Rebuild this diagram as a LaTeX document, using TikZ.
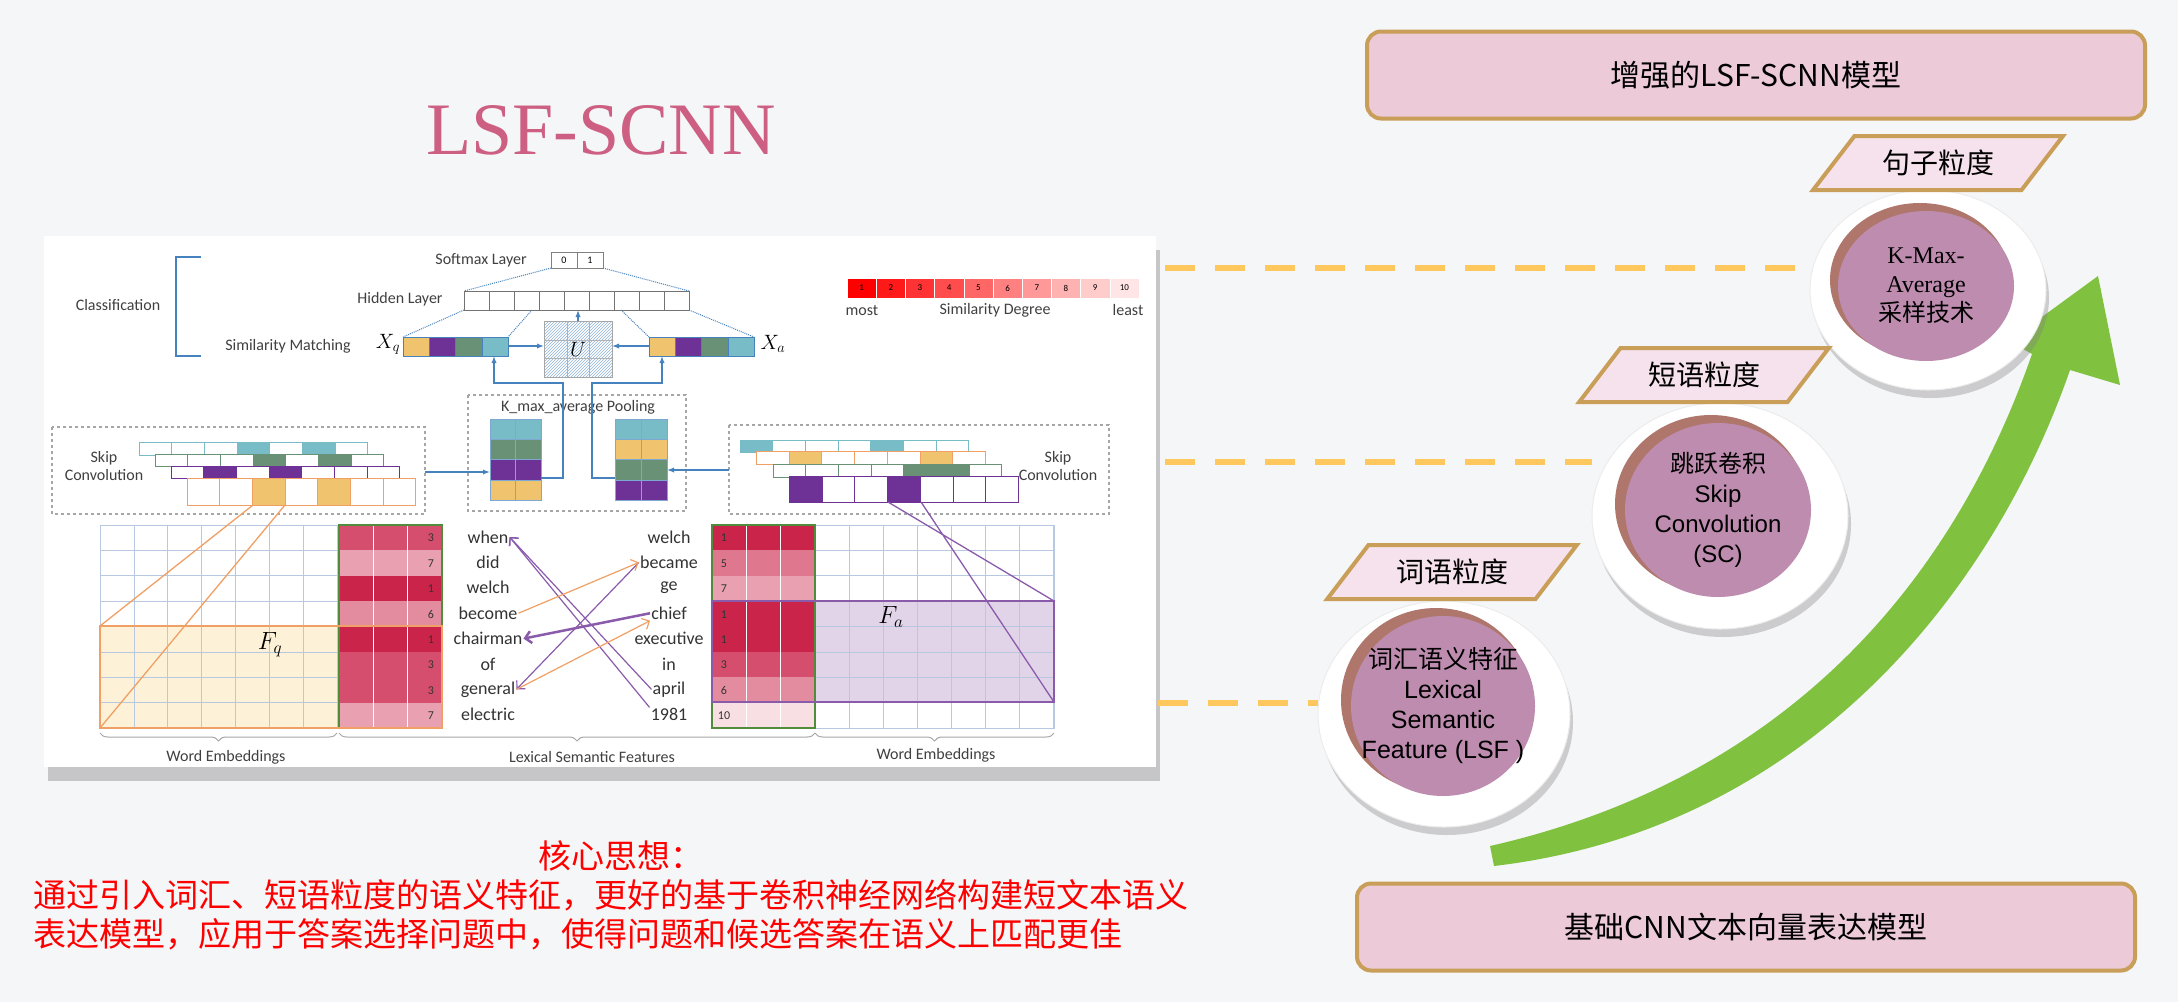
\documentclass[tikz,border=0pt]{standalone}
\usepackage{fontspec}
\setmainfont{Liberation Sans}
\newfontfamily\cjk{Noto Sans CJK SC}
\newfontfamily\figfont{Carlito}
\newfontfamily\titlefont{Liberation Serif}
\usetikzlibrary{
    arrows.meta,
    calc,
    decorations.pathreplacing,
    patterns,
    positioning,
    shadows,
    shapes.geometric
}
\definecolor{bgcol}{RGB}{245,246,248}
\definecolor{gold}{RGB}{200,158,88}
\definecolor{bannerpink}{RGB}{236,202,216}
\definecolor{tagpink}{RGB}{246,226,236}
\definecolor{discpurple}{RGB}{190,140,175}
\definecolor{discrim}{RGB}{175,118,108}
\definecolor{dashyellow}{RGB}{255,200,95}
\definecolor{arrowgreen}{RGB}{128,194,64}
\definecolor{titlepink}{RGB}{205,95,130}
\definecolor{figblue}{RGB}{70,130,190}
\definecolor{gridline}{RGB}{185,200,225}
\definecolor{cteal}{RGB}{120,188,200}
\definecolor{cgreen}{RGB}{105,145,118}
\definecolor{cpurple}{RGB}{110,50,150}
\definecolor{corange}{RGB}{240,196,110}
\definecolor{borange}{RGB}{240,160,100}
\definecolor{lsfred}{RGB}{200,25,65}
\definecolor{lsfgreen}{RGB}{80,140,60}
\definecolor{fqfill}{RGB}{253,242,215}
\definecolor{fafill}{RGB}{225,212,232}

\begin{document}
\begin{tikzpicture}[x=1pt, y=-1pt,
    banner/.style = {rectangle, rounded corners=14pt, draw=gold, line width=4pt,
                     fill=bannerpink, minimum width=778pt, minimum height=87pt,
                     font=\cjk\fontsize{30}{36}\selectfont},
    leveltag/.style = {trapezium, trapezium stretches=true, trapezium left angle=48,
                       trapezium right angle=132, draw=gold, line width=4pt, fill=tagpink,
                       minimum width=250pt, minimum height=54pt,
                       font=\cjk\fontsize{28}{34}\selectfont},
    halo/.style = {ellipse, fill=white, draw=gray!15, line width=1pt,
                   drop shadow={shadow xshift=3pt, shadow yshift=-8pt, opacity=.35}},
    disc/.style = {ellipse, fill=discpurple, inner sep=0pt},
    rim/.style = {ellipse, fill=discrim, inner sep=0pt},
    disctext/.style = {align=center, inner sep=0pt},
    guide/.style = {draw=dashyellow, line width=6pt, dash pattern=on 30pt off 20pt},
    idea/.style = {text=red, font=\cjk\fontsize{33}{40}\selectfont, inner sep=0pt},
    cell/.style = {draw=gridline, line width=.8pt},
    flabel/.style = {font=\figfont\fontsize{16}{18}\selectfont, text=black!75},
    word/.style = {font=\figfont\fontsize{18}{20}\selectfont, text=black!80, inner sep=1pt},
    numlabel/.style = {font=\figfont\fontsize{12}{14}\selectfont, text=black!80},
    dotline/.style = {figblue, densely dotted, line width=1pt},
    flowarrow/.style = {figblue, line width=1.3pt, -{Latex[length=7pt]}},
    qarrow/.style = {borange, line width=1.2pt, -{Straight Barb[length=6pt]}},
    aarrow/.style = {cpurple!80, line width=1.2pt, -{Straight Barb[length=6pt]}},
    fbrace/.style = {decorate, decoration={brace, mirror, amplitude=8pt}, draw=gray!70, line width=1pt}
]
    \useasboundingbox (0,0) rectangle (2178,1002);
    \fill[bgcol] (0,0) rectangle (2178,1002);

    % title and key idea
    \node[text=titlepink, font=\titlefont\fontsize{74}{80}\selectfont] (title) at (601,130) {LSF-SCNN};
    \node[idea] (idea1) at (621,856) {核心思想：};
    \node[idea, anchor=west] (idea2) at (33,895) {通过引入词汇、短语粒度的语义特征，更好的基于卷积神经网络构建短文本语义};
    \node[idea, anchor=west] (idea3) at (33,934) {表达模型，应用于答案选择问题中，使得问题和候选答案在语义上匹配更佳};

    % figure frame
    \node[fill=white, minimum width=1112pt, minimum height=531pt, inner sep=0pt,
          drop shadow={shadow xshift=4pt, shadow yshift=-14pt, opacity=.4}] (fig) at (600,501.5) {};

    % classification part
    \draw[figblue, line width=1.2pt] (201,257) -- (176,257) -- (176,356) -- (201,356);
    \node[flabel] (cls) at (118,305) {Classification};
    \node[flabel] (smx) at (481,260) {Softmax Layer};
    \node[flabel] (hid) at (400,299) {Hidden Layer};
    \node[flabel] (sim) at (288,346) {Similarity Matching};
    \node[font=\fontsize{20}{20}\selectfont] (xq) at (388,344) {$X_q$};
    \node[font=\fontsize{20}{20}\selectfont] (xa) at (773,344) {$X_a$};
    \foreach \i/\t in {0/0,1/1}
        \draw[draw=black!50, line width=.8pt] (551+\i*26,252) rectangle ++(26,16)
            node[midway, font=\figfont\fontsize{10}{10}\selectfont] {\t};
    \foreach \i in {0,...,8}
        \draw[draw=black!55, line width=.8pt] (464+\i*25,291) rectangle ++(25,19);
    \draw[dotline] (551,268) -- (464,291) (603,268) -- (689,291)
                   (464,310) -- (403,337) (532,310) -- (508,337)
                   (621,310) -- (649,337) (689,310) -- (754,337);
    \foreach \c [count=\i from 0] in {corange,cpurple,cgreen,cteal} {
        \draw[fill=\c, draw=figblue] (403+\i*26.25,337) rectangle ++(26.25,19);
        \draw[fill=\c, draw=figblue] (649+\i*26.25,337) rectangle ++(26.25,19);
    }
    \draw[draw=gray!70, pattern=north east lines, pattern color=figblue!60] (544,321) rectangle (612,377);
    \draw[gray!60] (544,340) -- (612,340) (544,358) -- (612,358) (567,321) -- (567,377) (589,321) -- (589,377);
    \node[font=\fontsize{22}{22}\selectfont] (U) at (578,349) {$U$};
    \draw[flowarrow] (508,346) -- (544,346);
    \draw[flowarrow] (649,346) -- (612,346);
    \draw[flowarrow] (578,321) -- (578,310);

    % similarity legend
    \foreach \i in {1,...,10} {
        \pgfmathtruncatemacro\p{100-(\i-1)*10}
        \draw[fill=red!\p!white, draw=white] (847+\i*29.2-29.2,278) rectangle ++(29.2,20)
            node[midway, font=\figfont\fontsize{9}{9}\selectfont] {\i};
    }
    \node[flabel] (most) at (862,310) {most};
    \node[flabel] (deg) at (995,310) {Similarity Degree};
    \node[flabel] (least) at (1128,310) {least};

    % pooling
    \draw[gray!70, dashed, line width=1.5pt] (468,395) rectangle (686,511);
    \node[flabel] (pool) at (578,407) {K\_max\_average Pooling};
    \foreach \c [count=\j from 0] in {cteal,cgreen,cpurple,corange}
        \foreach \k in {0,1}
            \draw[fill=\c, draw=figblue!70] (490+\k*25.5,419+\j*20.25) rectangle ++(25.5,20.25);
    \foreach \c [count=\j from 0] in {cteal,corange,cgreen,cpurple}
        \foreach \k in {0,1}
            \draw[fill=\c, draw=figblue!70] (615+\k*26,419+\j*20.25) rectangle ++(26,20.25);
    \draw[flowarrow] (541,478) -- (563,478) -- (563,383) -- (494,383) -- (494,356);
    \draw[flowarrow] (615,478) -- (592,478) -- (592,383) -- (662,383) -- (662,356);

    % skip convolutions
    \draw[gray!70, dashed, line width=1.5pt] (52,427) rectangle (425,514);
    \node[flabel, align=center] (skipq) at (104,466) {Skip\\Convolution};
    \foreach \c/\y/\h/\ha/\hb [count=\r from 0] in
        {cteal/442/13/3/5, cgreen/454/12/3/5, cpurple/466/12/1/3, borange/478/27/2/4}
        \foreach \i in {0,...,6} {
            \ifnum\i=\ha \def\f{\c}\else\ifnum\i=\hb \def\f{\c}\else\def\f{white}\fi\fi
            \ifnum\r=3 \ifnum\i=\ha \def\f{corange}\fi \ifnum\i=\hb \def\f{corange}\fi\fi
            \draw[fill=\f, draw=\c, line width=1pt] (139+\r*16+\i*32.7,\y) rectangle ++(32.7,\h);
        }
    \draw[gray!70, dashed, line width=1.5pt] (729,425) rectangle (1109,514);
    \node[flabel, align=center] (skipa) at (1058,466) {Skip\\Convolution};
    \foreach \c/\y/\h/\ha/\hb [count=\r from 0] in
        {cteal/440/12/0/4, borange/451/13/1/5, cgreen/464/13/4/5, cpurple/476/26/0/3}
        \foreach \i in {0,...,6} {
            \ifnum\i=\ha \def\f{\c}\else\ifnum\i=\hb \def\f{\c}\else\def\f{white}\fi\fi
            \ifnum\r=1 \ifnum\i=\ha \def\f{corange}\fi \ifnum\i=\hb \def\f{corange}\fi\fi
            \draw[fill=\f, draw=\c, line width=1pt] (740+\r*16.5+\i*32.7,\y) rectangle ++(32.7,\h);
        }
    \draw[flowarrow] (425,472) -- (490,472);
    \draw[flowarrow] (729,470) -- (667,470);

    % word embeddings and lexical features
    \fill[fqfill] (100,626) rectangle (337,728);
    \fill[fafill] (815,601) rectangle (1054,702);
    \foreach \i in {0,...,7} {
        \draw[cell] (100,525) rectangle (1054,525+\i*25.4+25.4);
    }
    \foreach \i in {0,...,7} {
        \draw[cell] (100+\i*33.9,525) -- (100+\i*33.9,728);
        \draw[cell] (815+\i*34.1,525) -- (815+\i*34.1,728);
    }
    \fill[white] (442,525) rectangle (712,729);
    \foreach \n [count=\i from 0] in {3,7,1,6,1,3,3,7} {
        \pgfmathtruncatemacro\p{95-(\n-1)*9}
        \fill[lsfred!\p!white] (339,525+\i*25.4) rectangle (442,525+\i*25.4+25.4);
        \node[numlabel] at (431,538+\i*25.4) {\n};
    }
    \foreach \n [count=\i from 0] in {1,5,7,1,1,3,6,10} {
        \pgfmathtruncatemacro\p{95-(\n-1)*9}
        \fill[lsfred!\p!white] (712,525+\i*25.4) rectangle (815,525+\i*25.4+25.4);
        \node[numlabel] at (724,538+\i*25.4) {\n};
    }
    \draw[white, line width=.8pt] (373,525) -- (373,728) (407,525) -- (407,728)
                                  (746,525) -- (746,728) (780,525) -- (780,728);
    \draw[lsfgreen, line width=2pt] (339,525) rectangle (442,728) (712,525) rectangle (815,728);
    \draw[borange, line width=2.5pt] (100,626) rectangle (442,728);
    \draw[cpurple!80, line width=2.5pt] (712,601) rectangle (1054,702);
    \node[font=\fontsize{24}{24}\selectfont] (Fq) at (270,645) {$F_q$};
    \node[font=\fontsize{24}{24}\selectfont] (Fa) at (891,617) {$F_a$};
    \draw[borange, line width=1.3pt] (253,505) -- (100,626) (285,505) -- (100,728);
    \draw[cpurple!80, line width=1.3pt] (888,502) -- (1054,601) (921,502) -- (1054,702);

    % words
    \foreach \w [count=\i] in {when,did,welch,become,chairman,of,general,electric}
        \node[word] (qw\i) at (488,537+\i*25.4-25.4) {\w};
    \foreach \w [count=\i] in {welch,became,ge,chief,executive,in,april,1981}
        \node[word] (aw\i) at (669,537+\i*25.4-25.4) {\w};
    \draw[aarrow] (aw7.west) -- (qw1.east);
    \draw[aarrow] (aw8.north west) -- (qw1.east);
    \draw[aarrow, line width=2.5pt] (aw4.west) -- (qw5.east);
    \draw[aarrow] (aw2.west) -- (qw7.east);
    \draw[qarrow] (qw4.east) -- (aw2.west);
    \draw[qarrow] (qw7.east) -- (aw4.south west);

    % braces
    \draw[fbrace] (100,733) -- (337,733);
    \draw[fbrace] (339,733) -- (815,733);
    \draw[fbrace] (815,733) -- (1054,733);
    \node[flabel] (weq) at (226,757) {Word Embeddings};
    \node[flabel] (lsf) at (592,757) {Lexical Semantic Features};
    \node[flabel] (wea) at (936,755) {Word Embeddings};

    % right panel
    \node[banner] (top) at (1756,75) {增强的LSF-SCNN模型};
    \node[banner] (base) at (1746,927) {基础CNN文本向量表达模型};

    \fill[arrowgreen] (1490,846) .. controls (1780,780) and (1950,590) .. (2032,354)
        -- (2009,341) -- (2098,276) -- (2120,385) -- (2070,370)
        .. controls (1990,600) and (1800,830) .. (1494,866) -- cycle;

    \node[halo, minimum width=236pt, minimum height=200pt] (h1) at (1928,290) {};
    \node[halo, minimum width=256pt, minimum height=226pt] (h2) at (1720,516) {};
    \node[halo, minimum width=252pt, minimum height=226pt] (h3) at (1444,714) {};
    \node[rim, minimum width=180pt, minimum height=154pt] at (1920,280) {};
    \node[rim, minimum width=192pt, minimum height=178pt] at (1711,504) {};
    \node[rim, minimum width=190pt, minimum height=184pt] at (1436,700) {};
    \node[disc, minimum width=176pt, minimum height=150pt] (c1) at (1926,286) {};
    \node[disc, minimum width=186pt, minimum height=174pt] (c2) at (1718,510) {};
    \node[disc, minimum width=184pt, minimum height=180pt] (c3) at (1443,706) {};
    \node[disctext, font=\titlefont\fontsize{24}{29}\selectfont] (c1text) at (c1)
          {K-Max-\\Average\\{\cjk 采样技术}};
    \node[disctext, font=\fontsize{24}{30}\selectfont] (c2text) at (c2)
          {{\cjk 跳跃卷积}\\Skip\\Convolution\\(SC)};
    \node[disctext, font=\fontsize{25}{30}\selectfont] (c3text) at (c3)
          {{\cjk 词汇语义特征}\\Lexical\\Semantic\\Feature (LSF )};

    \node[leveltag] (t1) at (1938,163) {句子粒度};
    \node[leveltag] (t2) at (1704,375) {短语粒度};
    \node[leveltag] (t3) at (1452,572) {词语粒度};

    \coordinate (d1) at (1165,268);
    \coordinate (d2) at (1165,462);
    \coordinate (d3) at (1158,703);
    \draw[guide] (d1) -- (d1 -| h1.west);
    \draw[guide] (d2) -- (d2 -| h2.west);
    \draw[guide] (d3) -- (d3 -| h3.west);

\end{tikzpicture}
\end{document}
